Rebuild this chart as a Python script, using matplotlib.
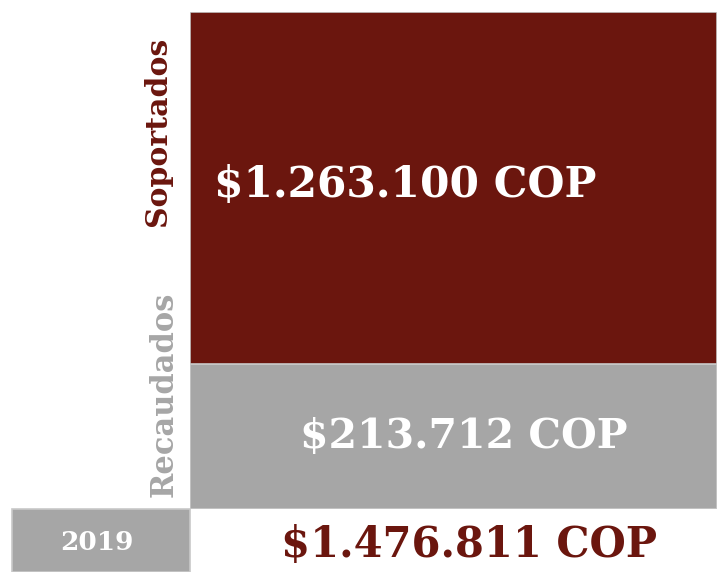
#!/usr/bin/env python3

import numpy as np
import matplotlib
matplotlib.use("Agg")
import matplotlib.pyplot as plt
from matplotlib.patches import Rectangle

# data
categories = ["Recaudados", "Soportados"]
values = [213712, 1263100]
value_labels = ["$213.712 COP", "$1.263.100 COP"]
total_label = "$1.476.811 COP"
year_label = "2019"

RED = "#6B160E"
GRAY = "#A6A6A6"
EDGE = "#C8C8C8"
FONT = "DejaVu Serif"

W, H = 717, 572
fig = plt.figure(figsize=(W / 100, H / 100), dpi=100)


def fx(px):
    return px / W


def fy(py):
    return 1 - py / H


# main stacked bar (segment heights on a square-root scale)
heights = np.sqrt(np.array(values, dtype=float))
ax = fig.add_axes([fx(190), fy(509), fx(717) - fx(190), fy(12) - fy(509)])
colors = [GRAY, RED]
bottom = 0.0
for h, c in zip(heights, colors):
    ax.bar(0, h, width=1.0, bottom=bottom, color=c, edgecolor=EDGE, linewidth=1.2)
    bottom += h
ax.set_xlim(-0.5, 0.5)
ax.set_ylim(0, heights.sum())
ax.axis("off")

# value labels inside segments
ax.text(0.02, heights[0] / 2, value_labels[0], ha="center", va="center",
        color="white", fontsize=29.5, fontweight="bold", family=FONT)
ax.text(-0.455, heights[0] + heights[1] * 0.51, value_labels[1], ha="left", va="center",
        color="white", fontsize=30.5, fontweight="bold", family=FONT)

# category labels on the left, rotated
fig.text(fx(157), fy(131), categories[1], rotation=90, ha="center", va="center",
         color=RED, fontsize=21.5, fontweight="bold", family=FONT)
fig.text(fx(164), fy(394), categories[0], rotation=90, ha="center", va="center",
         color=GRAY, fontsize=22, fontweight="bold", family=FONT)

# year box at bottom left
fig.patches.append(Rectangle((fx(12), 0), fx(190) - fx(12), fy(509), transform=fig.transFigure,
                             facecolor=GRAY, edgecolor=EDGE, linewidth=1.2))
fig.text(fx(97), fy(543), year_label, ha="center", va="center",
         color="white", fontsize=19, fontweight="bold", family=FONT)

# total
fig.text(fx(469), fy(545), total_label, ha="center", va="center",
         color=RED, fontsize=30, fontweight="bold", family=FONT)

fig.savefig("out.png", dpi=100)
